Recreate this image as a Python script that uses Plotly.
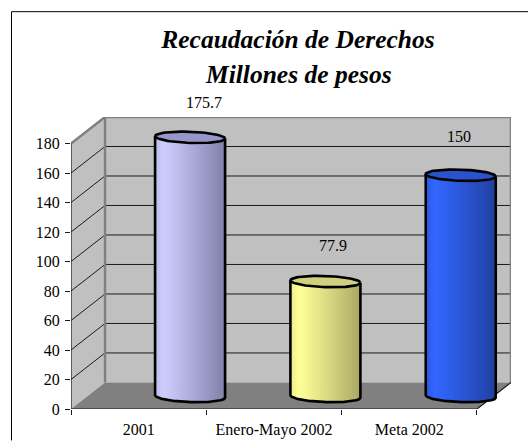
import numpy as np
import plotly.graph_objects as go

categories = ["2001", "Enero-Mayo 2002", "Meta 2002"]
values = [175.7, 77.9, 150]
value_labels = ["175.7", "77.9", "150"]
y_ticks = [0, 20, 40, 60, 80, 100, 120, 140, 160, 180]
title_lines = ["Recaudación de Derechos", "Millones de pesos"]

light = [(205, 205, 255), (255, 255, 153), (51, 102, 255)]
dark = [(128, 128, 168), (168, 168, 100), (32, 64, 160)]
edge = [(188, 188, 236), (236, 236, 140), (44, 88, 225)]
tops = [(150, 150, 200), (208, 208, 128), (42, 82, 205)]
label_shift = [(14, 35), (8, 36), (-2, 39)]

W, H = 528, 441
L, R, T, B = 71, 511, 117, 409.5
DX, DY = 0.2515, 18.0
YMAX = 180
XMIN, XMAX = -0.5, 2.5
PX_CAT = (R - L) / (XMAX + DX - XMIN)
PX_VAL = (B - T) / (YMAX + DY)

BAR_OFFSET = 0.38
BAR_HALF = 35 / PX_CAT
BAR_BASE = 8.5
ELL = 5.6 / PX_VAL
SKEW = 1.2 / PX_VAL
GRID = "#1a1a1a"
WALL_EDGE = "#808080"

fig = go.Figure()


def poly(xs, ys, fill=None, line=None, width=1):
    fig.add_trace(go.Scatter(
        x=xs, y=ys, mode="lines", fill="toself" if fill else "none",
        fillcolor=fill, line=dict(color=line or "rgba(0,0,0,0)", width=width if line else 0),
        hoverinfo="skip", showlegend=False, cliponaxis=False))


# walls and floor
poly([XMIN, XMIN + DX, XMIN + DX, XMIN, XMIN], [0, DY, YMAX + DY, YMAX, 0], fill="#C0C0C0")
poly([XMIN + DX, XMAX + DX, XMAX + DX, XMIN + DX, XMIN + DX], [DY, DY, YMAX + DY, YMAX + DY, DY], fill="#C0C0C0")
poly([XMIN, XMAX, XMAX + DX, XMIN + DX, XMIN], [0, 0, DY, DY, 0], fill="#808080")

# gridlines
for v in y_ticks[1:-1]:
    poly([XMIN, XMIN + DX, XMAX + DX], [v, v + DY, v + DY], line=GRID, width=1)

# wall edges
poly([XMIN + DX, XMIN + DX], [DY, YMAX + DY], line=WALL_EDGE, width=2.5)
poly([XMIN, XMIN + DX, XMAX + DX, XMAX + DX], [YMAX, YMAX + DY, YMAX + DY, DY], line=WALL_EDGE, width=2.5)
poly([XMIN, XMIN, XMAX, XMAX + DX], [YMAX, 0, 0, DY], line="#1a1a1a", width=1.2)


def rgb(c):
    return "rgb(%d,%d,%d)" % tuple(int(round(v)) for v in c)


# cylinders
N = 26
for i, v in enumerate(values):
    cx = i + BAR_OFFSET
    top = BAR_BASE + v
    u = np.linspace(-1, 1, N + 1)
    for k in range(N):
        t = (k + 0.5) / N
        if t < 0.12:
            col = np.array(edge[i]) + (np.array(light[i]) - np.array(edge[i])) * t / 0.12
        else:
            col = np.array(light[i]) + (np.array(dark[i]) - np.array(light[i])) * ((t - 0.12) / 0.88) ** 1.1
        a = np.linspace(u[k], min(u[k + 1] + 0.02, 1), 6)
        xs = cx + a * BAR_HALF
        low = BAR_BASE - ELL * np.sqrt(1 - a**2) - SKEW * a
        high = top - SKEW * a
        poly(list(xs) + list(xs[::-1]), list(low) + list(high[::-1]), fill=rgb(col))
    th = np.linspace(0, 2 * np.pi, 73)
    ex = cx + BAR_HALF * np.cos(th)
    ey = top + ELL * np.sin(th) - SKEW * np.cos(th)
    a = np.linspace(-1, 1, 61)
    ox = cx + a * BAR_HALF
    oy = BAR_BASE - ELL * np.sqrt(1 - a**2) - SKEW * a
    poly([cx - BAR_HALF] + list(ox) + [cx + BAR_HALF],
         [top + SKEW] + list(oy) + [top - SKEW], line="#000000", width=2.6)
    poly(list(ex), list(ey), fill=rgb(tops[i]), line="#000000", width=2.6)

# value labels
for i, v in enumerate(values):
    fig.add_annotation(x=i + BAR_OFFSET, y=BAR_BASE + v, text=value_labels[i], showarrow=False,
                       xshift=label_shift[i][0], yshift=label_shift[i][1],
                       font=dict(family="Liberation Serif", size=16, color="#000000"))

# second title line, placed on its own for the reference's line spacing
fig.add_annotation(xref="paper", yref="paper", x=(298 - L) / (R - L), y=(B - 74) / (B - T),
                   xanchor="center", yanchor="middle", showarrow=False, text=title_lines[1],
                   font=dict(family="Liberation Serif", size=25.5, color="#000000", weight="bold", style="italic"))

# chart frame: only the top and left edges fall inside the picture
fig.add_shape(type="line", xref="paper", yref="paper", x0=(11.5 - L) / (R - L), x1=(W - L) / (R - L),
              y0=(B - 11.5) / (B - T), y1=(B - 11.5) / (B - T), line=dict(color="#000000", width=1))
fig.add_shape(type="line", xref="paper", yref="paper", x0=(11.5 - L) / (R - L), x1=(11.5 - L) / (R - L),
              y0=(B - 11.5) / (B - T), y1=(B - H) / (B - T), line=dict(color="#000000", width=1))

fig.update_layout(
    width=W, height=H, margin=dict(l=L, r=W - R, t=T, b=H - B, pad=0),
    paper_bgcolor="white", plot_bgcolor="white", showlegend=False,
    font=dict(family="Liberation Serif", size=16, color="#000000"),
    title=dict(text=title_lines[0], xref="container", yref="container", automargin=False,
               x=298 / W, xanchor="center", y=1 - 39 / H, yanchor="middle",
               font=dict(family="Liberation Serif", size=25.5, color="#000000", weight="bold", style="italic")),
    xaxis=dict(range=[XMIN, XMAX + DX], tickmode="array", tickvals=[0, 1, 2], ticktext=categories,
               ticks="", showgrid=False, zeroline=False, showline=False, ticklabelstandoff=9, automargin=False,
               minor=dict(tickmode="array", tickvals=[-0.5, 0.5, 1.5, 2.5], ticks="outside", ticklen=5,
                          tickcolor="#1a1a1a", tickwidth=1, showgrid=False)),
    yaxis=dict(range=[0, YMAX + DY], tickmode="array", tickvals=y_ticks, ticks="outside", ticklen=5,
               tickcolor="#1a1a1a", tickwidth=1, showgrid=False, zeroline=False, showline=False,
               automargin=False, ticklabelstandoff=2),
)

fig.write_html("out.html", config={"displayModeBar": False},
               post_script="document.body.style.margin='0';document.body.style.overflow='hidden';")
